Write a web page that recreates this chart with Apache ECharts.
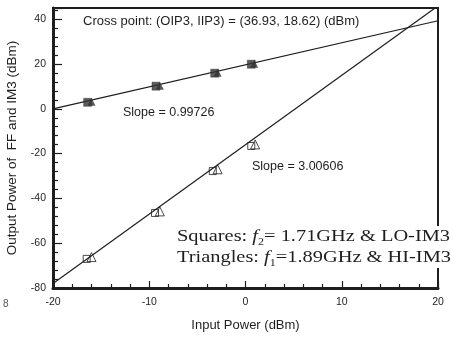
<!DOCTYPE html>
<html>
<head>
<meta charset="utf-8">
<script src="https://cdn.jsdelivr.net/npm/echarts@6/dist/echarts.min.js"></script>
<style>html,body{margin:0;padding:0;background:#fff;}#c{width:453px;height:337px;}</style>
</head>
<body>
<div id="c"></div>
<script>
// Input power (dBm) of the measured points
const ffSquareX = [-16.4, -9.3, -3.2, 0.6];
const ffSquareY = [2.9, 10.1, 15.9, 19.9];
const ffTriangleX = [-16.0, -8.9, -2.9, 0.9];
const ffTriangleY = [3.1, 10.3, 16.1, 20.1];
const im3SquareX = [-16.5, -9.4, -3.4, 0.6];
const im3SquareY = [-67.0, -46.5, -27.8, -16.6];
const im3TriangleX = [-16.0, -8.9, -2.9, 1.0];
const im3TriangleY = [-66.2, -45.8, -27.0, -15.9];
// Fitted lines (endpoints)
const ffLineX = [-20, 20];
const ffLineY = [0, 39.3];
const im3LineX = [-20, 19.7];
const im3LineY = [-78.0, 45];
const xTicks = [-20, -10, 0, 10, 20];
const yTicks = [-80, -60, -40, -20, 0, 20, 40];

const zip = (xs, ys) => xs.map((x, i) => [x, ys[i]]);
const ink = '#1e1e1e';

const chart = echarts.init(document.getElementById('c'));
chart.setOption({
  animation: false,
  backgroundColor: '#fff',
  grid: { left: 53, right: 15, top: 8, bottom: 49, show: true, outerBoundsMode: 'none', containLabel: false, borderColor: ink, borderWidth: 2, backgroundColor: 'transparent' },
  xAxis: {
    type: 'value', min: -20, max: 20, interval: 10,
    name: 'Input Power (dBm)', nameLocation: 'middle', nameGap: 31,
    nameTextStyle: { fontFamily: 'Liberation Sans', fontSize: 13, color: ink },
    axisLine: { onZero: false, lineStyle: { color: ink, width: 3 } },
    axisTick: { inside: true, length: 7, lineStyle: { color: ink, width: 1.2 } },
    minorTick: { show: true, splitNumber: 5, length: 4, lineStyle: { color: ink, width: 1.2 } },
    splitLine: { show: false },
    axisLabel: { fontFamily: 'Liberation Sans', fontSize: 10.5, color: ink, margin: 9, formatter: v => xTicks.includes(v) ? String(v) : '' }
  },
  yAxis: {
    type: 'value', min: -80, max: 45, interval: 20,
    name: 'Output Power of  FF and IM3 (dBm)', nameLocation: 'middle', nameGap: 34, nameRotate: 90,
    nameTextStyle: { fontFamily: 'Liberation Sans', fontSize: 13.5, color: ink },
    axisLine: { onZero: false, lineStyle: { color: ink, width: 3 } },
    axisTick: { inside: true, length: 9, lineStyle: { color: ink, width: 1.2 } },
    minorTick: { show: true, splitNumber: 5, length: 5, lineStyle: { color: ink, width: 1.2 } },
    splitLine: { show: false },
    axisLabel: { fontFamily: 'Liberation Sans', fontSize: 10.5, color: ink, margin: 7, showMaxLabel: false, formatter: v => yTicks.includes(v) ? String(v) : '' }
  },
  series: [
    { type: 'line', data: zip(ffLineX, ffLineY), symbol: 'none', lineStyle: { color: ink, width: 1.2 }, z: 2 },
    { type: 'line', data: zip(im3LineX, im3LineY), symbol: 'none', lineStyle: { color: ink, width: 1.2 }, z: 2 },
    { type: 'scatter', data: zip(ffSquareX, ffSquareY), symbol: 'rect', symbolSize: 8, itemStyle: { color: '#333', borderColor: '#222', borderWidth: 0.5 }, z: 3 },
    { type: 'scatter', data: zip(ffTriangleX, ffTriangleY), symbol: 'triangle', symbolSize: 8, itemStyle: { color: '#333' }, z: 3 },
    { type: 'scatter', data: zip(im3SquareX, im3SquareY), symbol: 'rect', symbolSize: 7, itemStyle: { color: 'rgba(255,255,255,0)', borderColor: ink, borderWidth: 1 }, z: 3 },
    { type: 'scatter', data: zip(im3TriangleX, im3TriangleY), symbol: 'triangle', symbolSize: 9, itemStyle: { color: 'rgba(255,255,255,0)', borderColor: ink, borderWidth: 1 }, z: 3 }
  ],
  graphic: [
    { type: 'text', left: 83, top: 15, z: 10, style: { text: 'Cross point: (OIP3, IIP3) = (36.93, 18.62) (dBm)', fontFamily: 'Liberation Sans', fontSize: 13, fill: ink } },
    { type: 'text', left: 123, top: 106, z: 10, style: { text: 'Slope = 0.99726', fontFamily: 'Liberation Sans', fontSize: 12.5, fill: ink } },
    { type: 'text', left: 252, top: 160, z: 10, style: { text: 'Slope = 3.00606', fontFamily: 'Liberation Sans', fontSize: 12.5, fill: ink } },
    { type: 'text', left: 177, top: 226, z: 10, scaleX: 1.2, style: {
        text: '{t|Squares: }{i|f}{s|2}{t|= 1.71GHz & LO-IM3}\n{t|Triangles: }{i|f}{s|1}{t|=1.89GHz & HI-IM3}',
        backgroundColor: '#fff',
        rich: {
          t: { fontFamily: 'Liberation Serif', fontSize: 17, lineHeight: 21, fill: ink, verticalAlign: 'middle' },
          i: { fontFamily: 'Liberation Serif', fontStyle: 'italic', fontSize: 17, lineHeight: 21, fill: ink, verticalAlign: 'middle' },
          s: { fontFamily: 'Liberation Serif', fontSize: 10, lineHeight: 21, fill: ink, verticalAlign: 'bottom' }
        }
    } },
    { type: 'text', left: 3, top: 299, z: 10, style: { text: '8', fontFamily: 'Liberation Sans', fontSize: 10, fill: '#555' } }
  ]
});
</script>
</body>
</html>
